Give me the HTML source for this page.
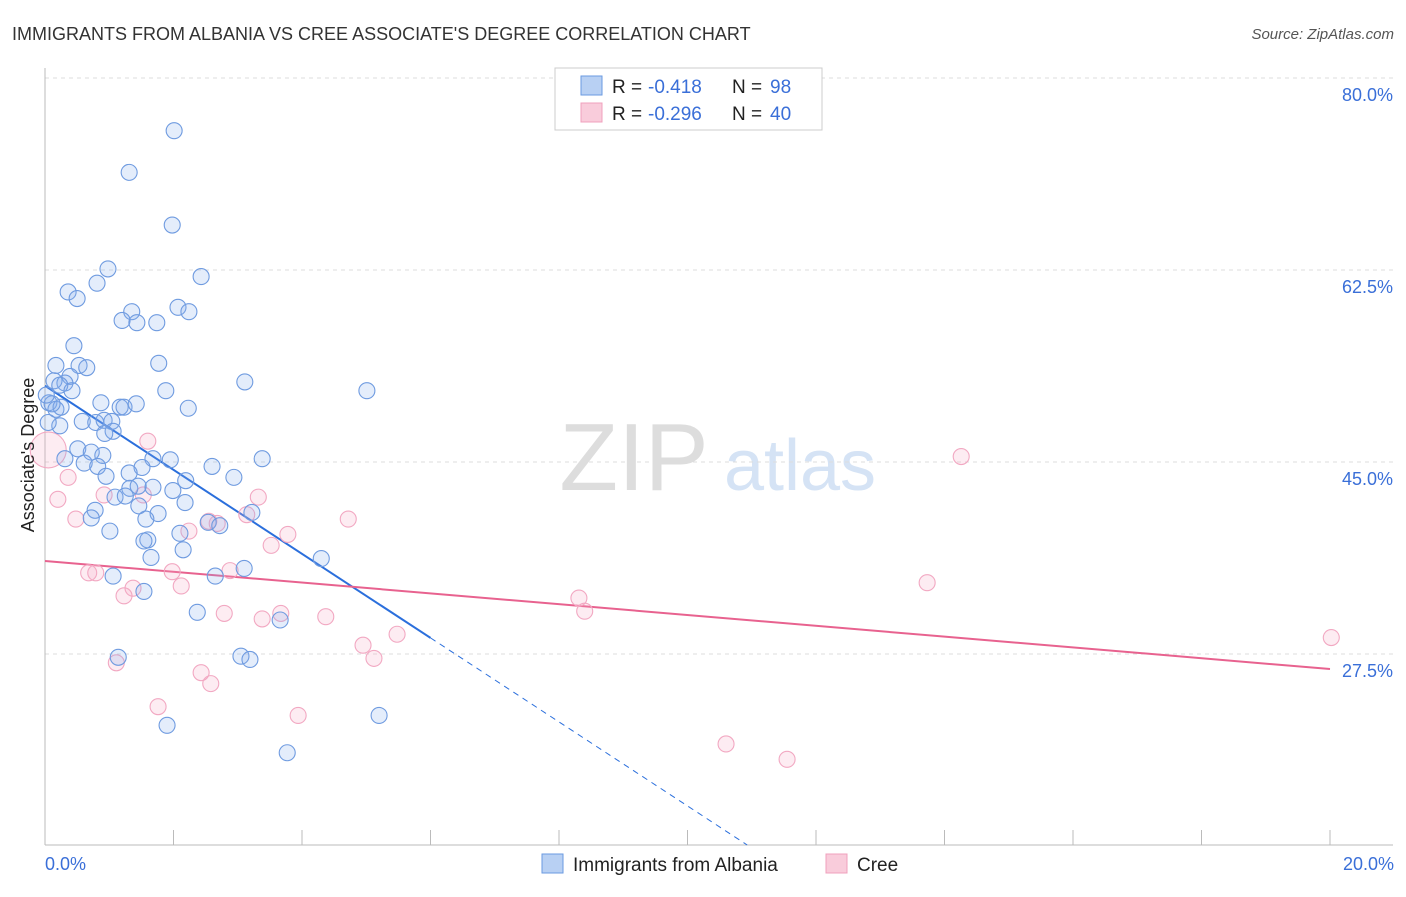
<!DOCTYPE html>
<html><head><meta charset="utf-8"><style>
body{margin:0;background:#fff;font-family:"Liberation Sans",sans-serif}
svg text{font-family:"Liberation Sans",sans-serif}
</style></head><body>
<svg id="chart" width="1406" height="892" viewBox="0 0 1406 892" xmlns="http://www.w3.org/2000/svg">
<text x="12" y="40" font-size="18" fill="#333">IMMIGRANTS FROM ALBANIA VS CREE ASSOCIATE'S DEGREE CORRELATION CHART</text>
<text x="1394" y="39" font-size="15" fill="#555" font-style="italic" text-anchor="end">Source: ZipAtlas.com</text>
<text x="634" y="490" font-size="96" fill="#ddd" font-family="Liberation Serif" text-anchor="middle">ZIP</text>
<text x="800" y="490" font-size="72" fill="#d5e3f5" text-anchor="middle">atlas</text>
<g id="grid"></g><g id="axes"></g><g id="trends"></g><g id="pts"></g>
<text transform="translate(34,455) rotate(-90)" font-size="18" fill="#222" text-anchor="middle">Associate's Degree</text>
<text x="45" y="870" font-size="18" fill="#3a6fd8">0.0%</text>
<text x="1394" y="870" font-size="18" fill="#3a6fd8" text-anchor="end">20.0%</text>
<g>
<rect x="555" y="68" width="267" height="62" fill="#fff" stroke="#ccc"/>
<rect x="581" y="76" width="21" height="19" fill="#b8d0f3" stroke="#6a9ae0"/>
<rect x="581" y="103" width="21" height="19" fill="#f9ccdb" stroke="#f0a0bc"/>
<text x="612" y="93" font-size="19" fill="#222">R =</text>
<text x="648" y="93" font-size="19" fill="#3a6fd8">-0.418</text>
<text x="732" y="93" font-size="19" fill="#222">N =</text>
<text x="770" y="93" font-size="19" fill="#3a6fd8">98</text>
<text x="612" y="120" font-size="19" fill="#222">R =</text>
<text x="648" y="120" font-size="19" fill="#3a6fd8">-0.296</text>
<text x="732" y="120" font-size="19" fill="#222">N =</text>
<text x="770" y="120" font-size="19" fill="#3a6fd8">40</text>
</g>
<g>
<rect x="542" y="854" width="21" height="19" fill="#b8d0f3" stroke="#6a9ae0"/>
<text x="573" y="871" font-size="19" fill="#222">Immigrants from Albania</text>
<rect x="826" y="854" width="21" height="19" fill="#f9ccdb" stroke="#f0a0bc"/>
<text x="857" y="871" font-size="19" fill="#222">Cree</text>
</g>
</svg>
<script>
const yTicks=[27.5,45,62.5,80];
const yTickLabels=["27.5%","45.0%","62.5%","80.0%"];
const xTicks=[0,2,4,6,8,10,12,14,16,18,20];
const blueX=[2.01,1.31,1.98,0.98,2.43,0.81,0.36,0.50,1.35,2.07,2.24,1.20,1.43,1.74,0.45,0.17,0.53,0.65,1.77,0.39,0.31,0.14,0.23,0.42,3.11,5.01,1.88,0.06,0.17,0.25,0.87,1.17,1.23,1.42,2.23,0.58,0.79,0.92,1.04,0.23,1.06,0.93,0.51,0.72,0.90,0.31,0.61,0.82,1.68,1.95,2.60,3.38,1.51,1.31,0.95,2.94,2.19,1.32,1.68,1.45,1.99,1.09,1.25,1.46,2.18,0.78,0.72,1.76,1.57,2.54,2.72,3.22,1.01,2.10,1.60,1.54,2.15,1.65,4.30,1.06,2.65,3.10,1.54,2.37,3.66,1.14,3.05,3.19,1.90,5.20,3.77,0.05,0.11,0.02];
const blueY=[75.2,71.4,66.6,62.6,61.9,61.3,60.5,59.9,58.7,59.1,58.7,57.9,57.7,57.7,55.6,53.8,53.8,53.6,54.0,52.8,52.2,52.4,52.0,51.5,52.3,51.5,51.5,50.4,49.8,50.0,50.4,50.0,50.0,50.3,49.9,48.7,48.6,48.8,48.7,48.3,47.8,47.6,46.2,45.9,45.6,45.3,44.9,44.6,45.3,45.2,44.6,45.3,44.5,44.0,43.7,43.6,43.3,42.6,42.7,42.8,42.4,41.8,41.9,41.0,41.3,40.6,39.9,40.3,39.8,39.5,39.2,40.4,38.7,38.5,37.9,37.8,37.0,36.3,36.2,34.6,34.6,35.3,33.2,31.3,30.6,27.2,27.3,27.0,21.0,21.9,18.5,48.6,50.3,51.1];
const pinkX=[0.05,0.20,0.36,0.48,0.68,0.79,0.92,1.53,1.60,1.37,1.23,1.98,2.12,2.24,2.55,2.79,2.68,2.88,3.32,3.14,3.78,3.52,3.67,3.38,4.37,4.72,4.95,5.12,5.48,1.11,1.76,2.43,2.58,3.94,8.31,8.40,10.60,11.55,13.73,14.26,20.02];
const pinkY=[46.1,41.6,43.6,39.8,34.9,34.9,42.0,42.0,46.9,33.5,32.8,35.0,33.7,38.7,39.6,31.2,39.4,35.1,41.8,40.2,38.4,37.4,31.2,30.7,30.9,39.8,28.3,27.1,29.3,26.7,22.7,25.8,24.8,21.9,32.6,31.4,19.3,17.9,34.0,45.5,29.0];
const pinkR=[18];
const blueTrend=[51.95,-3.83];
const blueSolidEnd=[6.0];
const pinkTrend=[35.98,-0.4925];
const NS="http://www.w3.org/2000/svg";
const X=v=>45+v*64.25, Y=v=>654-(v-27.5)*10.971;
function mk(tag,attrs,parent){const e=document.createElementNS(NS,tag);for(const k in attrs)e.setAttribute(k,attrs[k]);document.getElementById(parent).appendChild(e);return e;}
yTicks.forEach((t,i)=>{
 const l=mk('line',{x1:45,x2:1393,y1:Y(t),y2:Y(t),stroke:'#ddd','stroke-dasharray':'4,4'},'grid');
 
 
 const tx=mk('text',{x:1393,y:Y(t)+23,'font-size':18,fill:'#3a6fd8','text-anchor':'end'},'grid');
 tx.textContent=yTickLabels[i];
 
 
});
const ax=mk('line',{x1:45,x2:45,y1:68,y2:845,stroke:'#bbb'},'axes');


const bx=mk('line',{x1:45,x2:1393,y1:845,y2:845,stroke:'#bbb'},'axes');


xTicks.forEach(t=>{
 const l=mk('line',{x1:X(t),x2:X(t),y1:830,y2:845,stroke:'#bbb'},'axes');
 
 
});
const yMin=27.5-(845-654)/10.971;
const bEnd=blueSolidEnd[0], bDashEnd=(yMin-blueTrend[0])/blueTrend[1];
const bl=mk('line',{x1:X(0),y1:Y(blueTrend[0]),x2:X(bEnd),y2:Y(blueTrend[0]+blueTrend[1]*bEnd),stroke:'#2b6fdc','stroke-width':2},'trends');


const bd=mk('line',{x1:X(bEnd),y1:Y(blueTrend[0]+blueTrend[1]*bEnd),x2:X(bDashEnd),y2:Y(yMin),stroke:'#2b6fdc','stroke-width':1,'stroke-dasharray':'6,5'},'trends');


const pl=mk('line',{x1:X(0),y1:Y(pinkTrend[0]),x2:X(20),y2:Y(pinkTrend[0]+pinkTrend[1]*20),stroke:'#e8628f','stroke-width':2},'trends');


pinkX.forEach((v,i)=>{
 const c=mk('circle',{cx:X(v),cy:Y(pinkY[i]),r:i===0?pinkR[0]:8,fill:'rgba(244,170,198,0.22)',stroke:'#f2a8c2','stroke-width':1.1},'pts');
 
 
});
blueX.forEach((v,i)=>{
 const c=mk('circle',{cx:X(v),cy:Y(blueY[i]),r:8,fill:'rgba(130,172,238,0.22)',stroke:'#6f9be0','stroke-width':1.1},'pts');
 
 
});
</script>
</body></html>
